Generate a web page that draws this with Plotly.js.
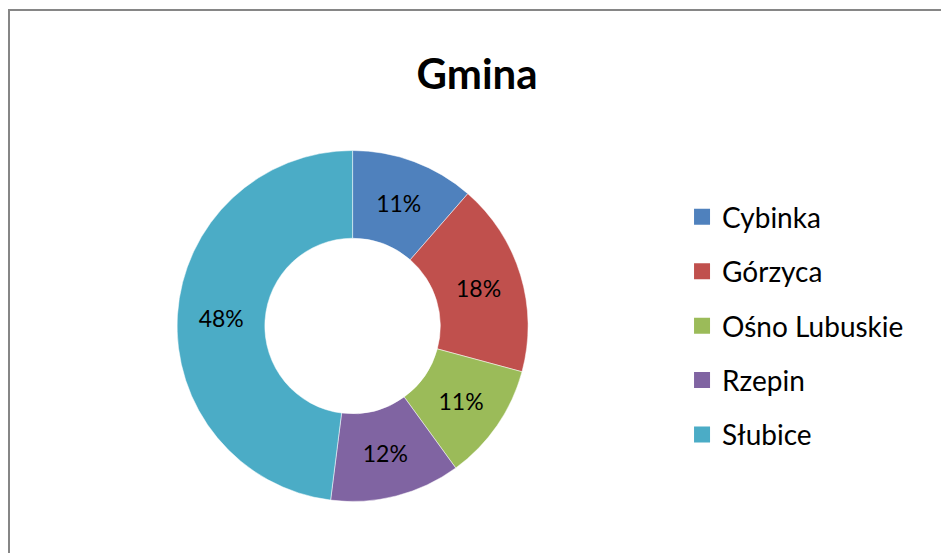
<!DOCTYPE html>
<html>
<head>
<meta charset="utf-8">
<script src="https://cdn.plot.ly/plotly-3.0.1.min.js"></script>
<style>html,body{margin:0;padding:0;background:#fff;}#chart{width:941px;height:553px;}</style>
</head>
<body>
<div id="chart"></div>
<script>
// Data
const categories = ["Cybinka", "Górzyca", "Ośno Lubuskie", "Rzepin", "Słubice"];
const values = [11.4, 17.8, 10.8, 12.0, 48.0];
const colors = ["#4F81BD", "#C0504D", "#9BBB59", "#8064A2", "#4BACC6"];
const chartTitle = "Gmina";

const FONT = "Lato, 'Open Sans', sans-serif";

const pie = {
  type: "pie",
  labels: categories,
  values: values,
  hole: 0.5,
  sort: false,
  direction: "clockwise",
  rotation: 0,
  marker: {colors: colors, line: {color: "#ffffff", width: 0.5}},
  textposition: "inside",
  insidetextorientation: "horizontal",
  texttemplate: "%{percent:.0%}",
  textfont: {family: FONT, size: 23, color: "#000000"},
  hoverinfo: "label+percent",
  showlegend: false,
  domain: {x: [0.1882, 0.5612], y: [0.093, 0.728]}
};

// legend entries (one per category, same colours)
const legendTraces = categories.map((c, i) => ({
  type: "scatter",
  mode: "markers",
  x: [null], y: [null],
  name: c,
  legendgroup: "g" + i,
  marker: {symbol: "square", size: 18, color: colors[i]},
  hoverinfo: "skip"
}));

const layout = {
  width: 941, height: 553,
  margin: {l: 0, r: 0, t: 0, b: 0},
  paper_bgcolor: "#ffffff",
  plot_bgcolor: "rgba(0,0,0,0)",
  title: {text: "<b>" + chartTitle + "</b>", font: {family: FONT, size: 42, color: "#000000"},
          x: 0.507, xanchor: "center", y: 0.866, yanchor: "middle"},
  xaxis: {visible: false, fixedrange: true},
  yaxis: {visible: false, fixedrange: true},
  showlegend: true,
  legend: {x: 0.7248, xanchor: "left", y: 0.6525, yanchor: "top",
           font: {family: FONT, size: 28, color: "#000000"},
           tracegroupgap: 15, bgcolor: "rgba(0,0,0,0)"},
  shapes: [{type: "rect", xref: "paper", yref: "paper",
            x0: 9/941, x1: 1.05, y0: -0.05, y1: 1 - 10/553,
            line: {color: "#868686", width: 2}, fillcolor: "rgba(0,0,0,0)", layer: "below"}]
};

Plotly.newPlot("chart", [pie].concat(legendTraces), layout, {displayModeBar: false, staticPlot: true});
</script>
</body>
</html>
